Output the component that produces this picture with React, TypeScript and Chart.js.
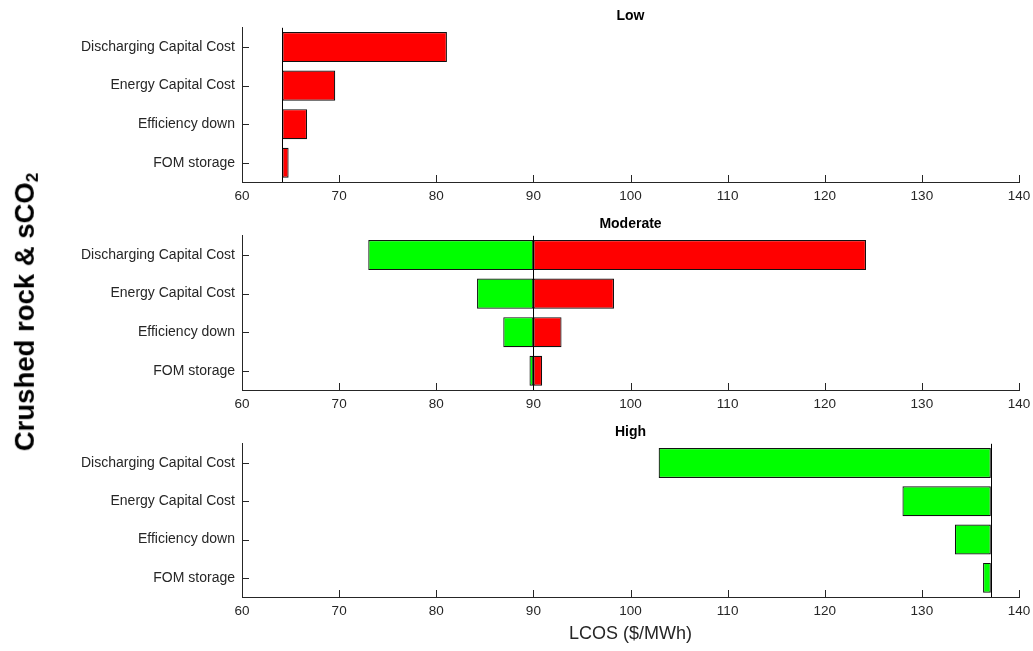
import React, { useEffect, useRef } from "react";
import { Chart, registerables } from "chart.js";

Chart.register(...registerables);

// ---- data ----
const categories = [
  "Discharging Capital Cost",
  "Energy Capital Cost",
  "Efficiency down",
  "FOM storage",
];
const xMin = 60;
const xMax = 140;
const xStep = 10;

const lowBase = 64.15;
const lowValues = [81.1, 69.6, 66.7, 64.8];

const moderateBase = 90;
const moderateDown = [73.0, 84.2, 86.9, 89.6];
const moderateUp = [124.25, 98.3, 92.9, 90.9];

const highBase = 137.1;
const highValues = [102.9, 128.0, 133.4, 136.3];

const panelTitles = ["Low", "Moderate", "High"];
const xAxisTitle = "LCOS ($/MWh)";

// ---- styles ----
const FONT = "'Liberation Sans', Arial, Helvetica, sans-serif";
const AXIS = "#262626";
const RED = "#ff0000";
const GREEN = "#00ff00";
const EDGE = "#111111";
const W = 1033;

const decorPlugin = {
  id: "decor",
  afterDatasetsDraw(chart: any, _args: any, opts: any) {
    const { ctx, chartArea } = chart;
    const x = chart.scales.x;
    const y = chart.scales.y;
    const tl = 7;
    ctx.save();
    ctx.strokeStyle = AXIS;
    ctx.lineWidth = 1;
    x.ticks.forEach((t: any) => {
      const px = Math.round(x.getPixelForValue(t.value)) + 0.5;
      ctx.beginPath();
      ctx.moveTo(px, chartArea.bottom);
      ctx.lineTo(px, chartArea.bottom - tl);
      ctx.stroke();
    });
    y.ticks.forEach((_t: any, i: number) => {
      const py = Math.round(y.getPixelForValue(i)) + 0.5;
      ctx.beginPath();
      ctx.moveTo(chartArea.left, py);
      ctx.lineTo(chartArea.left + tl, py);
      ctx.stroke();
    });
    if (opts && typeof opts.base === "number") {
      const bx = Math.round(x.getPixelForValue(opts.base)) + 0.5;
      ctx.strokeStyle = "#000";
      ctx.beginPath();
      ctx.moveTo(bx, chartArea.top);
      ctx.lineTo(bx, chartArea.bottom);
      ctx.stroke();
    }
    ctx.restore();
  },
};

type PanelProps = {
  title: string;
  datasets: any[];
  base: number;
  top: number;
  height: number;
  xHeight: number;
  showXTitle: boolean;
};

function Panel({ title, datasets, base, top, height, xHeight, showXTitle }: PanelProps) {
  const ref = useRef<HTMLCanvasElement | null>(null);
  useEffect(() => {
    if (!ref.current) return;
    const chart = new Chart(ref.current, {
      type: "bar",
      data: { labels: categories, datasets },
      options: {
        indexAxis: "y",
        responsive: false,
        animation: false,
        devicePixelRatio: 1,
        layout: { padding: { left: 0, right: 14, top: 0, bottom: 0 } },
        plugins: {
          legend: { display: false },
          tooltip: { enabled: false },
          title: {
            display: true,
            text: title,
            fullSize: false,
            color: "#000",
            font: { family: FONT, size: 14, weight: "bold" },
            padding: { top: 8, bottom: 3 },
          },
          decor: { base },
        } as any,
        scales: {
          x: {
            type: "linear",
            min: xMin,
            max: xMax,
            ticks: {
              stepSize: xStep,
              color: AXIS,
              font: { family: FONT, size: 13.5 },
              padding: 6,
            },
            grid: { display: false, drawTicks: false },
            border: { display: true, color: AXIS, width: 1 },
            title: {
              display: showXTitle,
              text: xAxisTitle,
              color: AXIS,
              font: { family: FONT, size: 18 },
              padding: { top: 0, bottom: 6 },
            },
            afterFit: (s: any) => {
              s.height = xHeight;
              s.paddingLeft = 0;
              s.paddingRight = 0;
            },
          },
          y: {
            type: "category",
            offset: true,
            ticks: {
              color: AXIS,
              font: { family: FONT, size: 14 },
              padding: 7,
            },
            grid: { display: false, drawTicks: false },
            border: { display: true, color: AXIS, width: 1 },
            afterFit: (s: any) => {
              s.width = 242;
              s.paddingTop = 0;
              s.paddingBottom = 0;
            },
          },
        },
      } as any,
      plugins: [decorPlugin as any],
    });
    return () => chart.destroy();
  }, []);
  return (
    <canvas
      ref={ref}
      width={W}
      height={height}
      style={{ position: "absolute", left: 0, top, width: W, height }}
    />
  );
}

const barCommon = {
  borderColor: EDGE,
  borderWidth: 1.2,
  borderSkipped: false,
  barPercentage: 0.78,
  categoryPercentage: 1,
  grouped: false,
};

export default function App() {
  const lowSets = [
    {
      ...barCommon,
      data: lowValues.map((v) => [lowBase, v]),
      backgroundColor: RED,
    },
  ];
  const modSets = [
    {
      ...barCommon,
      data: moderateDown.map((v) => [v, moderateBase]),
      backgroundColor: GREEN,
    },
    {
      ...barCommon,
      data: moderateUp.map((v) => [moderateBase, v]),
      backgroundColor: RED,
    },
  ];
  const highSets = [
    {
      ...barCommon,
      data: highValues.map((v) => [v, highBase]),
      backgroundColor: GREEN,
    },
  ];
  return (
    <div
      style={{
        position: "absolute",
        left: 0,
        top: 0,
        width: W,
        height: 651,
        background: "#fff",
        overflow: "hidden",
      }}
    >
      <Panel title={panelTitles[0]} datasets={lowSets} base={lowBase} top={0} height={208} xHeight={26} showXTitle={false} />
      <Panel title={panelTitles[1]} datasets={modSets} base={moderateBase} top={208} height={208} xHeight={26} showXTitle={false} />
      <Panel title={panelTitles[2]} datasets={highSets} base={highBase} top={416} height={235} xHeight={54} showXTitle={true} />
      <div
        style={{
          position: "absolute",
          left: 26,
          top: 312,
          transform: "translate(-50%, -50%) rotate(-90deg)",
          whiteSpace: "nowrap",
          fontFamily: FONT,
          fontWeight: "bold",
          fontSize: 27.5,
          color: "#000",
          lineHeight: 1,
        }}
      >
        Crushed rock &amp; sCO<sub style={{ fontSize: "0.62em", verticalAlign: "-0.25em" }}>2</sub>
      </div>
    </div>
  );
}
